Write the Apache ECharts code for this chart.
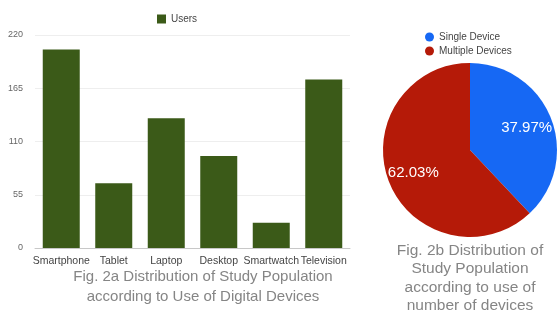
<!DOCTYPE html>
<html>
<head>
<meta charset="utf-8">
<script src="https://cdn.jsdelivr.net/npm/echarts@6/dist/echarts.min.js"></script>
<style>
  html, body { margin: 0; padding: 0; background: #fff; }
  #chart { width: 557px; height: 313px; }
</style>
</head>
<body>
<div id="chart"></div>
<script>
// bar chart: users per device
const devices = ['Smartphone', 'Tablet', 'Laptop', 'Desktop', 'Smartwatch', 'Television']
const users = [205, 67, 134, 95, 26, 174]
const yTicks = { min: 0, max: 220, interval: 55 }

// pie chart: single vs multiple devices
const groupNames = ['Single Device', 'Multiple Devices']
const groupCounts = [90, 147]

const font = 'Liberation Sans, Arial, sans-serif'
const green = '#3b5a18'
const pieColors = ['#1668f4', '#b51a08']
const captionGray = '#858585'

const chart = echarts.init(document.getElementById('chart'))

const pieData = groupNames.map((name, i) => ({ name, value: groupCounts[i] }))

chart.setOption({
  animation: false,
  textStyle: { fontFamily: font },
  title: [
    {
      text: 'Fig. 2a Distribution of Study Population\naccording to Use of Digital Devices',
      left: 198,
      top: 262,
      textAlign: 'center',
      textStyle: { fontSize: 15, fontWeight: 'normal', color: captionGray, lineHeight: 20, fontFamily: font }
    },
    {
      text: 'Fig. 2b Distribution of\nStudy Population\naccording to use of\nnumber of devices',
      left: 465,
      top: 236,
      textAlign: 'center',
      textStyle: { fontSize: 15.5, fontWeight: 'normal', color: captionGray, lineHeight: 18.5, fontFamily: font }
    }
  ],
  legend: [
    {
      data: ['Users'],
      left: 152,
      top: 9,
      icon: 'rect',
      itemWidth: 9,
      itemHeight: 9,
      itemGap: 4,
      textStyle: { fontSize: 10, color: '#444' }
    },
    {
      data: groupNames,
      orient: 'vertical',
      left: 420,
      top: 27,
      icon: 'circle',
      itemWidth: 9,
      itemHeight: 9,
      itemGap: 4,
      textStyle: { fontSize: 10, color: '#444' }
    }
  ],
  grid: { left: 35, right: 207, top: 35, bottom: 65 },
  xAxis: {
    type: 'category',
    data: devices,
    axisTick: { show: false },
    axisLine: { lineStyle: { color: '#c8c8c8' } },
    axisLabel: { fontSize: 10.5, color: '#444', margin: 8, interval: 0 }
  },
  yAxis: {
    type: 'value',
    min: yTicks.min,
    max: yTicks.max,
    interval: yTicks.interval,
    axisLine: { show: false },
    axisTick: { show: false },
    axisLabel: { fontSize: 9, color: '#666', margin: 12 },
    splitLine: { lineStyle: { color: '#eeeeee' } }
  },
  series: [
    {
      name: 'Users',
      type: 'bar',
      data: users,
      barWidth: 37,
      itemStyle: { color: green }
    },
    {
      name: 'Devices',
      type: 'pie',
      center: [470, 150],
      radius: [0, 87],
      color: pieColors,
      label: { show: false },
      labelLine: { show: false },
      data: pieData
    },
    {
      // label-only ring so the percentages sit further out than 'inside' gives
      name: 'DevicesLabels',
      type: 'pie',
      center: [470, 150],
      radius: [29, 87],
      silent: true,
      color: pieColors,
      itemStyle: { color: 'transparent' },
      label: {
        show: true,
        position: 'inside',
        formatter: '{d}%',
        color: '#fff',
        fontSize: 15
      },
      percentPrecision: 2,
      labelLine: { show: false },
      data: pieData
    }
  ]
})
</script>
</body>
</html>
